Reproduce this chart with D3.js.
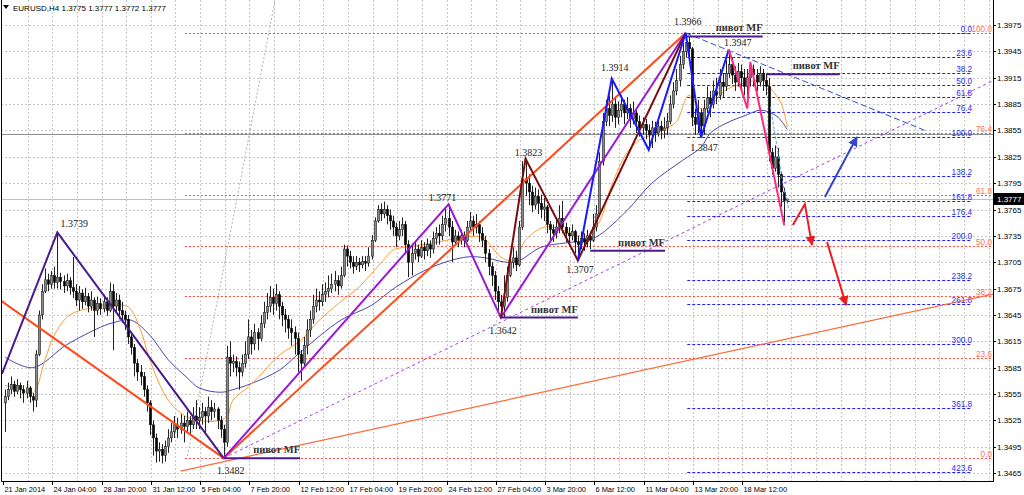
<!DOCTYPE html>
<html><head><meta charset="utf-8">
<script src="https://cdn.jsdelivr.net/npm/d3@7"></script>
<style>body{margin:0;background:#fff}svg{display:block}</style>
</head><body>
<svg id="c" width="1024" height="495"></svg>
<script>
// ---------- DATA ----------
const symbol = "EURUSD,H4";
const lastOHLC = ["1.3775", "1.3777", "1.3772", "1.3777"];
const base = 1.3; // candle values below are points above 1.3000
const firstOpen = 545;
const close = [
552,560,566,558,565,560,556,562,552,548,
600,645,672,685,680,690,682,688,683,678,
684,676,672,662,670,660,666,655,662,650,
658,652,660,650,672,655,662,650,645,640,
620,608,590,580,575,560,545,520,505,490,
492,485,495,505,512,520,515,522,518,525,
520,530,525,528,535,530,540,535,538,525,
515,500,597,590,592,585,580,590,600,620,
612,625,618,635,648,655,665,658,668,655,
645,640,630,625,618,600,590,610,628,640,
655,662,660,668,672,675,680,684,678,690,
720,712,705,700,705,702,706,704,712,730,
752,765,760,765,758,752,745,735,742,748,
725,705,715,720,712,722,718,725,720,732,
738,735,748,755,745,728,735,730,735,730,
745,752,745,748,738,730,715,700,690,672,
660,655,665,690,705,710,702,745,800,795,
785,770,780,772,765,768,748,742,738,745,
755,745,738,735,740,728,725,732,728,735,
730,745,760,820,865,880,872,885,870,878,
885,875,880,868,875,865,858,862,855,850,
858,852,860,855,858,865,885,900,912,930,
945,955,948,870,862,875,860,880,892,885,
900,895,910,905,920,930,918,910,922,915,
905,915,925,918,910,920,912,905,830,812,
825,805,785,775,777];
const high = [
560,568,575,570,572,568,565,570,564,556,
605,650,680,698,692,695,700,739,693,690,
692,688,711,680,678,674,676,670,672,665,
666,664,668,665,682,680,670,668,660,650,
645,625,612,595,588,580,565,548,525,510,
500,498,502,515,522,530,528,532,530,535,
530,540,548,540,545,540,552,548,545,540,
530,520,610,615,600,598,592,600,615,640,
628,635,630,645,660,670,678,675,680,672,
660,652,645,640,632,625,605,620,640,650,
668,675,672,680,682,690,692,695,690,700,
725,724,718,712,712,710,712,712,722,736,
756,770,772,774,770,765,758,750,752,756,
752,730,725,728,725,730,728,732,730,740,
745,748,758,768,771,752,742,740,742,740,
752,762,758,760,752,745,735,720,705,695,
678,668,690,700,715,722,718,752,820,823,
805,792,790,788,782,778,770,752,748,755,
770,775,750,745,748,742,735,740,738,742,
740,760,770,830,875,890,895,914,892,888,
895,890,893,885,888,878,872,870,868,862,
866,865,868,866,870,875,895,910,925,940,
955,966,962,950,880,890,880,890,905,900,
912,915,925,920,935,947,938,928,932,930,
925,925,933,930,925,928,925,920,915,835,
838,835,808,790,777];
const low = [
512,548,555,552,555,550,545,550,545,535,
540,598,640,670,672,675,675,675,674,670,
672,668,664,655,650,652,656,648,650,620,
645,645,648,644,648,605,648,640,636,628,
612,600,575,570,565,552,535,508,485,477,
478,476,478,488,500,505,505,510,500,512,
508,515,515,515,520,510,522,525,528,515,
505,482,495,575,580,575,560,575,585,595,
600,605,605,615,630,640,648,645,650,640,
632,625,618,610,600,580,570,585,600,620,
635,648,650,655,660,665,670,672,668,675,
688,700,698,692,696,694,698,695,700,708,
728,750,752,755,748,742,735,722,730,735,
715,688,690,708,705,710,708,712,710,715,
725,725,730,740,735,705,725,722,725,722,
728,740,735,738,728,722,705,690,678,662,
650,645,642,660,688,698,695,700,742,780,
770,762,765,760,755,752,738,730,728,732,
738,738,728,728,730,715,707,720,718,722,
720,728,740,758,815,860,860,865,858,862,
870,862,868,858,862,852,848,850,845,838,
835,842,848,845,846,850,862,880,895,905,
925,938,935,860,850,852,847,850,875,870,
880,885,890,892,900,915,908,900,905,900,
895,882,905,905,900,905,900,895,820,805,
808,790,768,750,772];

const timeLabels = ["21 Jan 2014","24 Jan 04:00","28 Jan 20:00","31 Jan 12:00","5 Feb 04:00","7 Feb 20:00",
  "12 Feb 12:00","17 Feb 04:00","19 Feb 20:00","24 Feb 12:00","27 Feb 04:00","3 Mar 20:00",
  "6 Mar 12:00","11 Mar 04:00","13 Mar 20:00","18 Mar 12:00"];
const barsPerLabel = 16;
const priceTicks = [1.3975,1.3945,1.3915,1.3885,1.3855,1.3825,1.3795,1.3765,1.3735,1.3705,
  1.3675,1.3645,1.3615,1.3585,1.3555,1.3525,1.3495,1.3465];
const bidPrice = 1.3777;
const hLinePrice = 1.3851;

// moving averages: [bar, points above 1.3]
const maFast = [[0,565],[5,560],[9,556],[13,594],[16,622],[21,645],[28,653],[34,656],[40,654],[44,628],[47,594],
  [53,548],[59,529],[63,525],[68,524],[72,529],[74,548],[79,563],[83,577],[89,599],[96,616],[102,639],[109,660],
  [115,677],[122,704],[126,719],[128,721],[139,727],[150,734],[155,733],[161,711],[164,707],[166,710],[169,730],
  [175,745],[180,743],[184,738],[189,734],[193,751],[197,793],[202,830],[206,844],[210,850],[215,858],[218,865],
  [222,895],[225,882],[227,878],[231,890],[234,901],[240,909],[245,912],[247,910],[249,901],[252,886],[254,859]];
const maSlow = [[0,597],[9,585],[20,611],[31,631],[36,637],[41,639],[47,622],[53,594],[59,574],[63,562],[70,557],
  [74,560],[80,567],[89,582],[96,603],[109,639],[119,656],[127,677],[139,700],[150,711],[156,710],[163,705],
  [167,707],[174,722],[182,727],[189,730],[193,736],[202,764],[210,795],[220,821],[226,836],[229,852],[234,863],
  [241,873],[245,878],[248,876],[251,870],[254,856]];
const maFastest = [[248.5,1.3882],[250.5,1.3840],[252.5,1.3795],[254.5,1.3765]];

// zigzags [bar, price]
const zzIndigo = [[-1,1.3578],[17,1.3739],[71,1.3482]];
const zzOrangeRed = [[-1.6,1.3662],[71,1.3482],[221,1.3966]];
const zzViolet = [[71,1.3482],[144,1.3771],[161,1.3642],[221,1.3966]];
const zzMaroon = [[161,1.3642],[169,1.3823],[186,1.3707],[221,1.3966]];
const zzBlue = [[186,1.3707],[197,1.3914],[209,1.3833],[221,1.3966],[226,1.3847],[235,1.3947]];
const zzPink = [[235,1.3947],[241,1.3880],[242,1.3933],[253,1.3747]];

// trend lines [bar, price]
const trendBlueDash = [[221,1.3966],[298.7,1.3855]];
const trendVioletDash = [[71,1.3482],[325,1.3919]];
const trendOrange = [[57,1.34673],[325,1.3672]];
const trendGrayDot = [[59,1.3480],[87.7,1.40035]];

// arrows [bar, price]
const arrowBlue = [[266.2,1.37792],[276.6,1.38475]];
const arrowRed1 = [[255.8,1.37473],[259.7,1.37712],[262,1.37245]];
const arrowRed2 = [[266.9,1.3728],[273.1,1.36562]];

// fibonacci
const fibOrangeLevels = [0,23.6,38.2,50,61.8,76.4,100];
const fibOrange = {p0:1.3482, p100:1.3966, fromBar:58.4};
const fibBlueLevels = [0,23.6,38.2,50,61.8,76.4,100,138.2,161.8,176.4,200,238.2,261.8,300,361.8,423.6];
const fibBlue = {p0:1.3966, p100:1.3848, fromBar:221.5, toBar:314};

// pivots [fromBar, toBar, price]
const pivots = [[71,95.8,1.3482],[161,186,1.3642],[190,214.3,1.3718],[221.4,246,1.3962],[247.4,271,1.3919]];
const pivotText = "пивот MF";

// swing labels [text, bar, price]
const swingLabels = [["1.3739",17,1.3739],["1.3482",71,1.3482],["1.3771",144,1.3771],["1.3642",161,1.3642],
  ["1.3823",169,1.3823],["1.3707",186,1.3707],["1.3914",197,1.3914],["1.3966",221,1.3966],
  ["1.3947",235,1.3947],["1.3847",226,1.3847]];
// label layout offsets (px), same order
const swingOffsets = [[17,-9],[7,12],[-6,-7],[2,13],[3,-6],[2,9],[3,-11],[2,-11],[9,-7],[3,10]];

// ---------- DRAW ----------
const svg = d3.select("#c");
const P = {left:1, right:993, top:0, bottom:481};
const x = d3.scaleLinear().domain([0, 254]).range([5, 5 + 3.08*254]);
const y = d3.scaleLinear().domain([1.3456, 1.40035]).range([P.bottom, P.top]);
const pv = v => base + v/10000;

const defs = svg.append("defs");
defs.append("clipPath").attr("id","clip").append("rect")
  .attr("x",P.left).attr("y",P.top).attr("width",P.right-P.left).attr("height",P.bottom-P.top);
function marker(id,color){
  defs.append("marker").attr("id",id).attr("viewBox","0 0 10 10").attr("refX",9).attr("refY",5)
    .attr("markerWidth",5).attr("markerHeight",5).attr("orient","auto-start-reverse")
    .attr("markerUnits","strokeWidth")
    .append("path").attr("d","M0,0L10,5L0,10z").attr("fill",color);
}
marker("ab","#3346c8"); marker("ar","#ee1c1c");

const g = svg.append("g").attr("clip-path","url(#clip)");
const axisFont = "Liberation Sans, Arial, sans-serif";
const axisSize = 8;
const timeSize = 7.4;

// grid
const nBars = close.length;
for (let i = 8; i < 330; i += 8) {
  const gx = Math.round(x(i) - 2) + 0.5;
  if (gx >= P.right) break;
  g.append("line").attr("x1",gx).attr("x2",gx).attr("y1",P.top).attr("y2",P.bottom)
    .attr("stroke","#c8c8c8").attr("stroke-dasharray","2,2");
}
priceTicks.forEach(p => {
  const gy = Math.round(y(p)) + 0.5;
  g.append("line").attr("x1",P.left).attr("x2",P.right).attr("y1",gy).attr("y2",gy)
    .attr("stroke","#c8c8c8").attr("stroke-dasharray","2,2");
});

// horizontal lines
g.append("line").attr("x1",P.left).attr("x2",P.right).attr("y1",Math.round(y(hLinePrice))+0.5).attr("y2",Math.round(y(hLinePrice))+0.5)
  .attr("stroke","#909090").attr("stroke-width",1);
g.append("line").attr("x1",P.left).attr("x2",P.right).attr("y1",Math.round(y(bidPrice))+0.5).attr("y2",Math.round(y(bidPrice))+0.5)
  .attr("stroke","#c0c0c0").attr("stroke-width",1);

// fib orange
const fmt1 = d3.format(".1f");
fibOrangeLevels.forEach(l => {
  const p = fibOrange.p0 + (fibOrange.p100 - fibOrange.p0)*l/100;
  const ly = Math.round(y(p)) + 0.5;
  g.append("line").attr("x1",x(fibOrange.fromBar)).attr("x2",P.right).attr("y1",ly).attr("y2",ly)
    .attr("stroke","#ff4a3a").attr("stroke-dasharray","2,2");
  svg.append("text").attr("x",P.right-1).attr("y",ly-2).attr("text-anchor","end")
    .attr("font-family",axisFont).attr("font-size",8.2).attr("fill","#ff7050").text(fmt1(l));
});
// fib blue
fibBlueLevels.forEach(l => {
  const p = fibBlue.p0 + (fibBlue.p100 - fibBlue.p0)*l/100;
  const ly = Math.round(y(p)) + 0.5;
  g.append("line").attr("x1",x(fibBlue.fromBar)).attr("x2",x(fibBlue.toBar)).attr("y1",ly).attr("y2",ly)
    .attr("stroke","#2020ff").attr("stroke-dasharray","3,2");
  g.append("text").attr("x",x(fibBlue.toBar)).attr("y",ly-2).attr("text-anchor","end")
    .attr("font-family",axisFont).attr("font-size",8.2).attr("fill","#2a2aff").text(fmt1(l));
});

// trend lines
const lineP = d3.line().x(d => x(d[0])).y(d => y(d[1]));
const lineV = d3.line().x(d => x(d[0])).y(d => y(pv(d[1]))).curve(d3.curveCatmullRom);
g.append("path").attr("d",lineP(trendGrayDot)).attr("fill","none").attr("stroke","#b0b0b0").attr("stroke-dasharray","2,2");
g.append("path").attr("d",lineP(trendOrange)).attr("fill","none").attr("stroke","#ff6a3a").attr("stroke-width",1.2);

// moving averages
g.append("path").attr("d",lineV(maSlow)).attr("fill","none").attr("stroke","#4848b0").attr("stroke-width",1);
g.append("path").attr("d",lineV(maFast)).attr("fill","none").attr("stroke","#ff9a30").attr("stroke-width",1);

// candles
const cg = g.append("g");
for (let i = 0; i < nBars; i++) {
  const o = pv(i === 0 ? firstOpen : close[i-1]), c = pv(close[i]);
  const cx = Math.round(x(i)) + 0.5;
  cg.append("line").attr("x1",cx).attr("x2",cx).attr("y1",y(pv(high[i]))).attr("y2",y(pv(low[i])))
    .attr("stroke","#222").attr("stroke-width",1);
  const top = y(Math.max(o,c)), bot = y(Math.min(o,c));
  const bull = c >= o;
  cg.append("rect").attr("x",cx-1.2).attr("y",top).attr("width",2.4).attr("height",Math.max(1,bot-top))
    .attr("fill", bull ? "#8a8a8a" : "#000").attr("stroke", "#111").attr("stroke-width",0.5);
}
g.append("path").attr("d",lineP(maFastest)).attr("fill","none").attr("stroke","#4aa0ff").attr("stroke-width",1).attr("stroke-dasharray","3,2");

// dashed trend lines
g.append("path").attr("d",lineP(trendVioletDash)).attr("fill","none").attr("stroke","#a040ee").attr("stroke-dasharray","3,3");
g.append("path").attr("d",lineP(trendBlueDash)).attr("fill","none").attr("stroke","#3344dd").attr("stroke-dasharray","6,3");

// zigzags
[[zzOrangeRed,"#ff4a1a"],[zzIndigo,"#4b1a8c"],[zzViolet,"#9a18d8"],[zzMaroon,"#7a0c0c"],[zzBlue,"#1a1aff"],[zzPink,"#ff2a80"]]
  .forEach(([d,col]) => g.append("path").attr("d",lineP(d)).attr("fill","none").attr("stroke",col).attr("stroke-width",2));

// pivots
pivots.forEach(([a,b,p]) => {
  const py = y(p);
  g.append("line").attr("x1",x(a)).attr("x2",x(b)).attr("y1",py).attr("y2",py).attr("stroke","#4b1a8c").attr("stroke-width",2);
  g.append("text").attr("x",x(b)).attr("y",py-5).attr("text-anchor","end")
    .attr("font-family","Liberation Serif, Times New Roman, serif").attr("font-size",10.5).attr("font-weight","bold")
    .attr("fill","#333").text(pivotText);
});

// arrows
g.append("path").attr("d",lineP(arrowBlue)).attr("fill","none").attr("stroke","#3346c8").attr("stroke-width",2).attr("marker-end","url(#ab)");
[arrowRed1, arrowRed2].forEach(a => g.append("path").attr("d",lineP(a)).attr("fill","none")
  .attr("stroke","#ee1c1c").attr("stroke-width",2).attr("stroke-linejoin","miter").attr("marker-end","url(#ar)"));

// swing labels
swingLabels.forEach(([t,b,p],k) => {
  svg.append("text").attr("x",x(b)+swingOffsets[k][0]).attr("y",y(p)+swingOffsets[k][1])
    .attr("text-anchor","middle").attr("dominant-baseline","central")
    .attr("font-family","Liberation Serif, Times New Roman, serif").attr("font-size",10).attr("fill","#222").text(t);
});

// frame
svg.append("path").attr("d",`M${P.left+0.5},${P.top}V${P.bottom+0.5}H${P.right+0.5}V${P.top}`)
  .attr("fill","none").attr("stroke","#000").attr("stroke-width",1);

// price axis
priceTicks.forEach(p => {
  const ty = Math.round(y(p)) + 0.5;
  svg.append("line").attr("x1",P.right).attr("x2",P.right+3).attr("y1",ty).attr("y2",ty).attr("stroke","#000");
  svg.append("text").attr("x",P.right+4).attr("y",ty).attr("dominant-baseline","central")
    .attr("font-family",axisFont).attr("font-size",axisSize).attr("fill","#000").text(d3.format(".4f")(p));
});
const by = Math.round(y(bidPrice));
svg.append("rect").attr("x",P.right+1).attr("y",by-6).attr("width",30).attr("height",12).attr("fill","#000");
svg.append("text").attr("x",P.right+4).attr("y",by+0.5).attr("dominant-baseline","central")
  .attr("font-family",axisFont).attr("font-size",axisSize).attr("fill","#fff").text(d3.format(".4f")(bidPrice));

// time axis
timeLabels.forEach((t,k) => {
  const tx = Math.round(x(k*barsPerLabel) - 2) + 0.5;
  svg.append("line").attr("x1",tx).attr("x2",tx).attr("y1",P.bottom).attr("y2",P.bottom+4).attr("stroke","#000");
  svg.append("text").attr("x",tx+1).attr("y",489).attr("dominant-baseline","central")
    .attr("font-family",axisFont).attr("font-size",timeSize).attr("fill","#000").text(t);
});

// header
svg.append("path").attr("d","M3,5L9,5L6,9Z").attr("fill","#000");
svg.append("text").attr("x",13).attr("y",8).attr("dominant-baseline","central")
  .attr("font-family",axisFont).attr("font-size",axisSize).attr("fill","#000")
  .text(symbol + "  " + lastOHLC.join(" "));
</script>
</body></html>
